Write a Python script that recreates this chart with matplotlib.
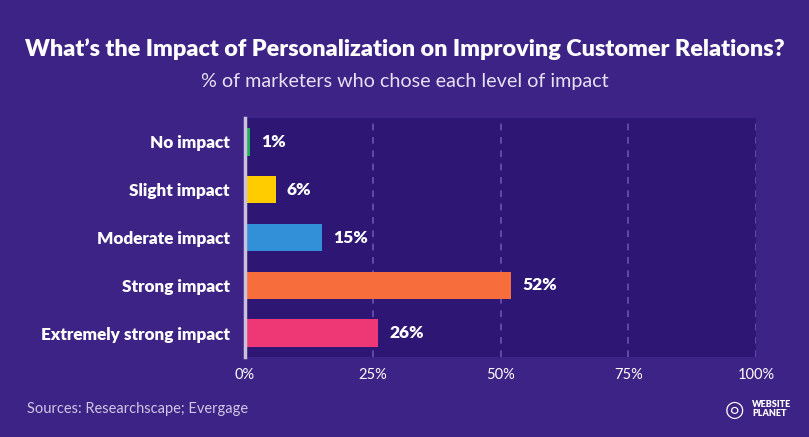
import matplotlib.pyplot as plt
import numpy as np

## Data
categories = ['No impact', 'Slight impact', 'Moderate impact', 'Strong impact', 'Extremely strong impact']
values = [1, 6, 15, 52, 26]
bar_colors = ['#1fb05a', '#ffcc00', '#3290d8', '#f76d3b', '#ee3876']
xticks = [0, 25, 50, 75, 100]

bg = '#3d2385'
plot_bg = '#2d1674'

plt.rcParams['font.family'] = ['Lato', 'DejaVu Sans']

fig = plt.figure(figsize=(8.09, 4.37), dpi=100, facecolor=bg)
# Axes placement in pixel terms (809 x 437)
W, H = 809, 437
left, right, top, bottom = 245, 756, 118, 357
ax = fig.add_axes([left / W, 1 - bottom / H, (right - left) / W, (bottom - top) / H])
ax.set_facecolor(plot_bg)

y = np.arange(len(categories))
ax.barh(y, values, height=0.57, color=bar_colors, zorder=3)
ax.set_xlim(0, 100)
ax.set_ylim(len(categories) - 0.5, -0.5)

# Value labels
for yi, v in zip(y, values):
    ax.text(v + 2.2, yi, f'{v}%', va='center', ha='left', color='white',
            fontsize=12.5, fontweight='heavy', zorder=4)

# Dashed vertical gridlines
for xt in xticks[1:]:
    ax.axvline(xt, color='#6b51b3', linestyle=(0, (4, 4)), linewidth=1.2, zorder=1)

for s in ['top', 'right', 'bottom']:
    ax.spines[s].set_visible(False)
ax.spines['left'].set_color('#c9c1dd')
ax.spines['left'].set_linewidth(2.5)
ax.spines['left'].set_zorder(5)

ax.set_yticks(y)
ax.set_yticklabels(categories, color='white', fontsize=12.3, fontweight='heavy')
ax.set_xticks(xticks)
ax.set_xticklabels([f'{x}%' for x in xticks], color='white', fontsize=10.5)
ax.tick_params(axis='both', length=0)
ax.tick_params(axis='y', pad=11)
ax.tick_params(axis='x', pad=8)

# Titles
fig.text(0.5, 1 - 49 / H, 'What\u2019s the Impact of Personalization on Improving Customer Relations?',
         ha='center', va='center', color='white', fontsize=16.8, fontweight='heavy')
fig.text(0.5, 1 - 82 / H, '% of marketers who chose each level of impact',
         ha='center', va='center', color='#e6e0f4', fontsize=14.2)

# Footer
fig.text(27 / W, 1 - 409 / H, 'Sources: Researchscape; Evergage',
         ha='left', va='center', color='#cfc6e6', fontsize=10.5)
fig.text(752 / W, 1 - 409 / H, 'WEBSITE\nPLANET', ha='left', va='center',
         color='white', fontsize=6.5, fontweight='heavy', linespacing=1.1)
fig.text(734 / W, 1 - 410 / H, '\u25CE', ha='center', va='center', color='white', fontsize=16)

fig.savefig('out.png', dpi=100, facecolor=bg)
